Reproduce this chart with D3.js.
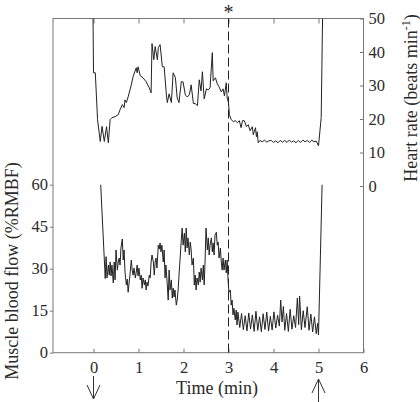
<!DOCTYPE html>
<html>
<head>
<meta charset="utf-8">
<script src="https://cdn.jsdelivr.net/npm/d3@7"></script>
<style>
  body { margin: 0; background: #fff; }
  text { font-family: "Liberation Serif", "Times New Roman", serif; fill: #2a2a2a; }
</style>
</head>
<body>
<div id="main"></div>
<script>
const ctx = {
    w: 420,
    h: 402,
};

const timeTicks = [0, 1, 2, 3, 4, 5, 6];
const topTicks = [0, 1, 2, 3, 4, 5];
const flowTicks = [0, 15, 30, 45, 60];
const rateTicks = [0, 10, 20, 30, 40, 50];
const markerTime = 3;
const startTime = 0;
const endTime = 5;

// heart rate: [time (min), beats/min]
const heartRate = [
    [-0.01, 50], [0.00, 33.8], [0.04, 33.8], [0.09, 19.8], [0.15, 13.3], [0.19, 17.8],
    [0.24, 13.3], [0.29, 17.7], [0.33, 12.9], [0.37, 19.8], [0.41, 20.4], [0.48, 20.7],
    [0.55, 21.3], [0.59, 22.8], [0.64, 24.3], [0.68, 23.4], [0.70, 25.7], [0.73, 24.9],
    [0.77, 26.6], [0.84, 30.2], [0.88, 32.7], [0.95, 35.3], [0.97, 33.8], [0.99, 35.6],
    [1.04, 32.9], [1.10, 32.3], [1.17, 31.1], [1.24, 29.3], [1.28, 27.8], [1.30, 42.5],
    [1.34, 37.7], [1.37, 41.6], [1.42, 37.7], [1.44, 41.3], [1.48, 42.2], [1.53, 35.6],
    [1.57, 35.6], [1.62, 27.2], [1.64, 24.9], [1.68, 27.5], [1.73, 24.9], [1.77, 33.8],
    [1.82, 32.3], [1.86, 26.3], [1.90, 24.9], [1.95, 31.1], [1.99, 31.1], [2.04, 27.2],
    [2.08, 26.6], [2.13, 27.2], [2.17, 30.2], [2.22, 24.6], [2.26, 24.6], [2.31, 24.0],
    [2.35, 31.7], [2.39, 28.4], [2.42, 34.1], [2.46, 26.0], [2.51, 29.0], [2.55, 28.7],
    [2.59, 29.3], [2.64, 39.8], [2.66, 31.4], [2.71, 32.3], [2.75, 30.5], [2.79, 29.6],
    [2.84, 28.1], [2.88, 29.0], [2.91, 26.9], [2.95, 30.8], [2.97, 26.3], [3.00, 24.9],
    [3.02, 21.3], [3.06, 19.8], [3.11, 19.2], [3.15, 19.5], [3.20, 18.9], [3.24, 19.5],
    [3.28, 17.4], [3.31, 19.5], [3.35, 19.5], [3.40, 17.7], [3.44, 18.3], [3.48, 16.5],
    [3.53, 17.7], [3.55, 15.3], [3.60, 17.4], [3.62, 14.7], [3.64, 16.2], [3.66, 12.9],
    [3.70, 13.6], [3.75, 13.2], [3.80, 13.7], [3.85, 13.1], [3.90, 13.5], [3.95, 13.6],
    [4.00, 13.0], [4.05, 13.5], [4.10, 12.9], [4.15, 13.6], [4.20, 13.1], [4.25, 13.6],
    [4.30, 13.0], [4.35, 13.7], [4.40, 13.1], [4.45, 13.5], [4.50, 12.9], [4.55, 13.6],
    [4.60, 13.0], [4.65, 13.7], [4.70, 13.2], [4.75, 13.6], [4.80, 13.0], [4.85, 13.7],
    [4.90, 13.2], [4.95, 13.4], [5.00, 12.0], [5.06, 20.4], [5.09, 50]
];

// muscle blood flow: [time (min), %RMBF]
const bloodFlow = [
    [0.16, 60.0], [0.25, 30.0], [0.26, 26.5], [0.28, 34.3], [0.30, 26.7], [0.33, 31.3],
    [0.35, 27.7], [0.37, 32.4], [0.39, 27.4], [0.41, 31.3], [0.44, 24.9], [0.46, 32.4],
    [0.48, 26.0], [0.50, 36.7], [0.53, 29.5], [0.55, 32.4], [0.57, 33.8], [0.59, 31.3],
    [0.61, 37.4], [0.64, 40.6], [0.66, 33.1], [0.68, 36.7], [0.70, 28.8], [0.73, 24.2],
    [0.75, 26.3], [0.77, 21.6], [0.79, 24.9], [0.81, 27.7], [0.84, 33.1], [0.86, 29.5],
    [0.88, 27.7], [0.90, 30.2], [0.93, 26.7], [0.95, 28.8], [0.97, 31.3], [0.99, 27.4],
    [1.01, 30.2], [1.04, 26.0], [1.06, 27.7], [1.08, 23.0], [1.10, 26.7], [1.13, 24.2],
    [1.15, 26.0], [1.17, 22.4], [1.19, 25.2], [1.21, 23.8], [1.24, 27.7], [1.26, 26.7],
    [1.28, 32.4], [1.30, 34.9], [1.33, 32.4], [1.35, 27.7], [1.37, 32.4], [1.39, 33.8],
    [1.41, 30.2], [1.44, 38.4], [1.46, 37.0], [1.48, 39.2], [1.50, 36.0], [1.52, 38.4],
    [1.55, 32.4], [1.57, 36.7], [1.59, 26.7], [1.61, 31.3], [1.64, 24.2], [1.66, 18.8],
    [1.68, 29.5], [1.70, 22.4], [1.73, 26.0], [1.75, 19.5], [1.77, 23.1], [1.79, 19.9],
    [1.81, 22.4], [1.84, 17.0], [1.86, 18.8], [1.88, 22.4], [1.90, 27.7], [1.93, 34.9],
    [1.95, 40.2], [1.97, 44.5], [1.99, 38.4], [2.02, 42.7], [2.04, 36.0], [2.06, 44.5],
    [2.08, 37.4], [2.10, 41.0], [2.13, 34.9], [2.15, 39.5], [2.17, 36.7], [2.19, 31.3],
    [2.22, 33.8], [2.24, 24.2], [2.26, 27.7], [2.28, 22.4], [2.30, 26.7], [2.33, 24.2],
    [2.35, 28.8], [2.37, 25.2], [2.39, 30.2], [2.42, 26.0], [2.44, 31.3], [2.46, 24.2],
    [2.48, 33.1], [2.50, 44.5], [2.53, 36.7], [2.55, 41.0], [2.57, 34.9], [2.59, 38.4],
    [2.62, 41.0], [2.64, 36.0], [2.66, 39.2], [2.68, 34.9], [2.70, 42.0], [2.73, 43.0],
    [2.75, 38.4], [2.77, 39.5], [2.79, 33.8], [2.82, 37.4], [2.84, 32.4], [2.86, 29.5],
    [2.88, 33.8], [2.90, 29.5], [2.93, 33.1], [2.95, 28.5], [2.97, 33.1], [2.99, 26.0],
    [3.01, 21.6], [3.04, 22.4], [3.06, 17.0], [3.08, 18.8], [3.10, 13.5], [3.12, 15.9],
    [3.15, 11.7], [3.17, 15.2], [3.19, 9.9], [3.21, 14.5], [3.25, 9.0], [3.29, 14.0],
    [3.33, 8.2], [3.37, 13.2], [3.41, 7.8], [3.45, 14.2], [3.49, 8.5], [3.53, 13.5],
    [3.57, 7.6], [3.61, 14.8], [3.65, 8.0], [3.69, 12.8], [3.73, 7.5], [3.77, 13.9],
    [3.81, 8.3], [3.85, 14.5], [3.89, 7.7], [3.93, 13.0], [3.97, 8.1], [4.01, 14.6],
    [4.05, 8.8], [4.09, 13.4], [4.13, 9.5], [4.16, 18.8], [4.19, 11.0], [4.22, 16.5],
    [4.25, 8.0], [4.29, 14.0], [4.33, 7.6], [4.37, 15.5], [4.41, 8.4], [4.45, 13.2],
    [4.49, 9.0], [4.53, 19.5], [4.56, 10.0], [4.58, 20.2], [4.62, 8.2], [4.66, 15.0],
    [4.70, 9.0], [4.75, 16.4], [4.79, 8.0], [4.83, 13.8], [4.87, 7.4], [4.91, 12.8],
    [4.95, 6.8], [4.98, 10.5], [5.00, 6.3], [5.08, 60.0]
];

function createViz() {
    const svgEl = d3.select("#main").append("svg")
        .attr("width", ctx.w)
        .attr("height", ctx.h);

    const frame = {left: 53, right: 363.5, top: 18.5, bottom: 352.7};

    const x = d3.scaleLinear().domain([-0.9, 6]).range([frame.left, frame.right]);
    const yRate = d3.scaleLinear().domain([0, 50]).range([186, frame.top]);
    const yFlow = d3.scaleLinear().domain([0, 60]).range([frame.bottom, 184.7]);

    const axisColor = "#777";
    const tickFont = "16.5px";
    const labelFont = "18px";

    svgEl.append("clipPath").attr("id", "plotclip")
        .append("rect")
        .attr("x", frame.left).attr("y", frame.top)
        .attr("width", frame.right - frame.left)
        .attr("height", frame.bottom - frame.top);

    // bottom axis
    const gx = svgEl.append("g")
        .attr("transform", `translate(0,${frame.bottom})`)
        .call(d3.axisBottom(x).tickValues(timeTicks).tickFormat(d3.format("d"))
            .tickSizeInner(-4).tickSizeOuter(0).tickPadding(9));

    // top axis, ticks only
    const gt = svgEl.append("g")
        .attr("transform", `translate(0,${frame.top})`)
        .call(d3.axisTop(x).tickValues(topTicks).tickFormat("")
            .tickSizeInner(-5).tickSizeOuter(0));

    // left axis (blood flow)
    const gl = svgEl.append("g")
        .attr("transform", `translate(${frame.left},0)`)
        .call(d3.axisLeft(yFlow).tickValues(flowTicks)
            .tickSizeInner(3).tickSizeOuter(0).tickPadding(2));

    // right axis (heart rate)
    const gr = svgEl.append("g")
        .attr("transform", `translate(${frame.right},0)`)
        .call(d3.axisRight(yRate).tickValues(rateTicks)
            .tickSizeInner(-3.5).tickSizeOuter(0).tickPadding(5));

    [gx, gt, gl, gr].forEach(g => {
        g.select(".domain").remove();
        g.selectAll(".tick line").attr("stroke", axisColor);
        g.selectAll(".tick text")
            .style("font-family", "Liberation Serif, Times New Roman, serif")
            .style("font-size", tickFont)
            .attr("fill", "#2a2a2a");
    });

    svgEl.append("rect")
        .attr("x", frame.left).attr("y", frame.top)
        .attr("width", frame.right - frame.left)
        .attr("height", frame.bottom - frame.top)
        .attr("fill", "none")
        .attr("stroke", axisColor)
        .attr("stroke-width", 1);

    // dashed marker at 3 min
    svgEl.append("line")
        .attr("x1", x(markerTime)).attr("x2", x(markerTime))
        .attr("y1", frame.top).attr("y2", frame.bottom)
        .attr("stroke", "#222")
        .attr("stroke-width", 1)
        .attr("stroke-dasharray", "9,4");

    svgEl.append("text")
        .attr("x", x(markerTime))
        .attr("y", 18.5)
        .attr("text-anchor", "middle")
        .style("font-size", "20px")
        .text("*");

    const rateLine = d3.line().x(d => x(d[0])).y(d => yRate(d[1]));
    const flowLine = d3.line().x(d => x(d[0])).y(d => yFlow(d[1]));

    const plot = svgEl.append("g").attr("clip-path", "url(#plotclip)");

    plot.append("path")
        .datum(heartRate)
        .attr("d", rateLine)
        .attr("fill", "none")
        .attr("stroke", "#222")
        .attr("stroke-width", 1);

    plot.append("path")
        .datum(bloodFlow)
        .attr("d", flowLine)
        .attr("fill", "none")
        .attr("stroke", "#222")
        .attr("stroke-width", 1);

    // axis titles
    svgEl.append("text")
        .attr("x", 217)
        .attr("y", 394)
        .attr("text-anchor", "middle")
        .style("font-size", labelFont)
        .text("Time (min)");

    svgEl.append("text")
        .attr("transform", "translate(18,271) rotate(-90)")
        .attr("text-anchor", "middle")
        .style("font-size", labelFont)
        .text("Muscle blood flow (%RMBF)");

    const rt = svgEl.append("text")
        .attr("transform", "translate(417,98) rotate(-90)")
        .attr("text-anchor", "middle")
        .style("font-size", labelFont);
    rt.append("tspan").text("Heart rate (beats min");
    rt.append("tspan").attr("dy", -7).style("font-size", "12px").text("-1");
    rt.append("tspan").attr("dy", 7).text(")");

    // start / stop arrows
    const arrowColor = "#333";
    svgEl.append("path")
        .attr("d", `M${x(startTime)},376 V399 M${x(startTime) - 6.5},385 L${x(startTime)},399 L${x(startTime) + 6.5},385`)
        .attr("fill", "none")
        .attr("stroke", arrowColor)
        .attr("stroke-width", 1);

    svgEl.append("path")
        .attr("d", `M${x(endTime)},402 V379 M${x(endTime) - 6.5},393 L${x(endTime)},379 L${x(endTime) + 6.5},393`)
        .attr("fill", "none")
        .attr("stroke", arrowColor)
        .attr("stroke-width", 1);
}

createViz();
</script>
</body>
</html>
